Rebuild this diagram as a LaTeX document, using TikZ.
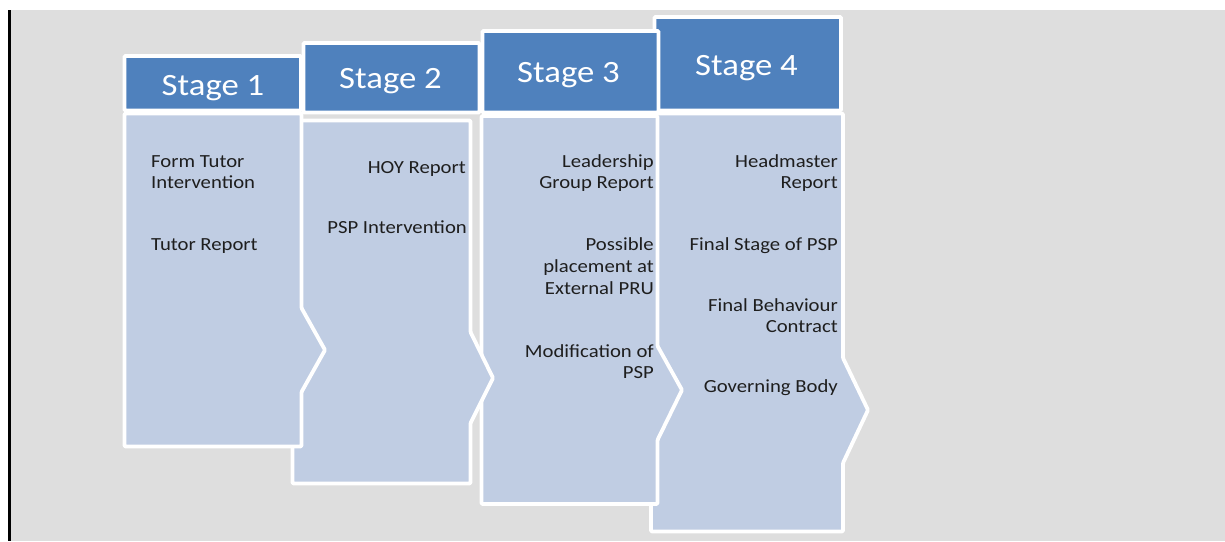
\documentclass[tikz,border=0pt]{standalone}
\usepackage{fontspec}
\setmainfont[FakeStretch=1.12]{Carlito}
\definecolor{bgray}{RGB}{222,222,222}
\definecolor{hblue}{RGB}{79,129,189}
\definecolor{bfill}{RGB}{192,205,227}
\definecolor{tcol}{RGB}{30,30,30}
\begin{document}
\begin{tikzpicture}[x=1pt,y=-1pt,
  hdr/.style={fill=hblue,draw=white,line width=3.8pt,rounded corners=1pt},
  bdy/.style={fill=bfill,draw=white,line width=3.8pt,rounded corners=1pt,line join=round},
  ttl/.style={text=white,font=\fontsize{31}{37}\selectfont,anchor=base,inner sep=0pt},
  itl/.style={text=tcol,font=\fontsize{18.5}{22}\selectfont,anchor=base west,inner sep=0pt},
  itr/.style={text=tcol,font=\fontsize{18.5}{22}\selectfont,anchor=base east,inner sep=0pt}]
\useasboundingbox (0,0) rectangle (1225,541);
\fill[white] (0,0) rectangle (1225,541);
\fill[bgray] (8,10) rectangle (1225,541);
\fill[black] (8,10) rectangle (11,541);

% stage 4
\draw[bdy] (651,113.5) -- (843,113.5) -- (843,358) -- (868,410) -- (843,463) -- (843,531.5) -- (651,531.5) -- cycle;
\draw[hdr] (654.5,17) rectangle (841,110.5);
% stage 3
\draw[bdy] (481.5,116) -- (657.5,116) -- (657.5,346) -- (682,390) -- (657.5,440) -- (657.5,504) -- (481.5,504) -- cycle;
\draw[hdr] (482.5,31) rectangle (658.5,112.5);
% stage 2
\draw[bdy] (292.5,120.5) -- (470.5,120.5) -- (470.5,332) -- (493,378) -- (470.5,423) -- (470.5,483.5) -- (292.5,483.5) -- cycle;
\draw[hdr] (303.5,43) rectangle (479.5,112.5);
% stage 1
\draw[bdy] (124.5,113.5) -- (301.5,113.5) -- (301.5,308) -- (325,350) -- (301.5,392) -- (301.5,446.5) -- (124.5,446.5) -- cycle;
\draw[hdr] (124.5,56) rectangle (301,110.5);

\node[ttl] (t1) at (213,95) {Stage 1};
\node[ttl] (t2) at (390.5,88) {Stage 2};
\node[ttl] (t3) at (568.5,82) {Stage 3};
\node[ttl] (t4) at (746.5,75) {Stage 4};

\node[itl] (a1) at (151,167) {Form Tutor};
\node[itl] (a2) at (151,188) {Intervention};
\node[itl] (a3) at (151,250) {Tutor Report};

\node[itr] (b1) at (466,173) {HOY Report};
\node[itr] (b2) at (467,233) {PSP Intervention};

\node[itr] (c1) at (654,167) {Leadership};
\node[itr] (c2) at (654,188) {Group Report};
\node[itr] (c3) at (654,250) {Possible};
\node[itr] (c4) at (654,272) {placement at};
\node[itr] (c5) at (654,294) {External PRU};
\node[itr] (c6) at (654,357) {Modification of};
\node[itr] (c7) at (654,378) {PSP};

\node[itr] (d1) at (838,167) {Headmaster};
\node[itr] (d2) at (838,188) {Report};
\node[itr] (d3) at (838,250) {Final Stage of PSP};
\node[itr] (d4) at (838,311) {Final Behaviour};
\node[itr] (d5) at (838,332) {Contract};
\node[itr] (d6) at (838,392) {Governing Body};
\end{tikzpicture}
\end{document}
